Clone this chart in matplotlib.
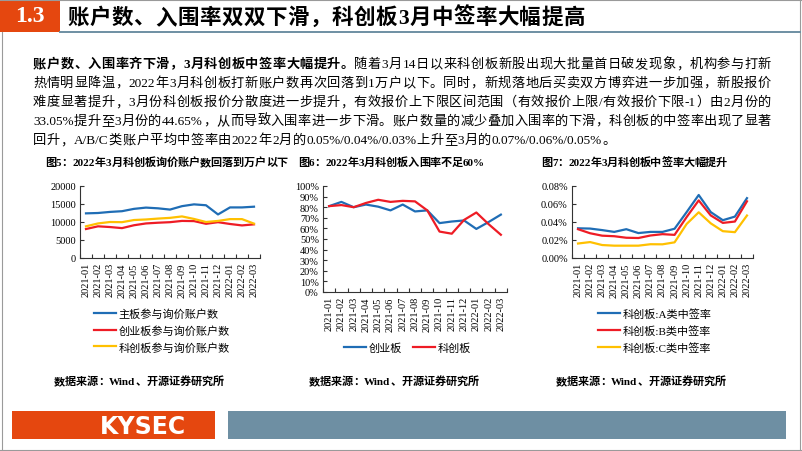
import matplotlib
matplotlib.use("Agg")
import matplotlib.pyplot as plt
from matplotlib.font_manager import FontProperties
from matplotlib.lines import Line2D
from matplotlib.patches import Rectangle
from matplotlib.ticker import FuncFormatter

# ---------------------------------------------------------------------------
# 数据
# ---------------------------------------------------------------------------
months = ["2021-01", "2021-02", "2021-03", "2021-04", "2021-05", "2021-06",
          "2021-07", "2021-08", "2021-09", "2021-10", "2021-11", "2021-12",
          "2022-01", "2022-02", "2022-03"]

# 图5 询价账户数
main_accounts = [12400, 12500, 12800, 13000, 13650, 14000, 13800, 13450,
                 14400, 14900, 14650, 12100, 14050, 14050, 14250]
gem_accounts = [8050, 8800, 8600, 8300, 9100, 9600, 9800, 9950,
                10300, 10250, 9500, 9950, 9450, 9050, 9350]
star_accounts = [8800, 9600, 10000, 9950, 10550, 10700, 10950, 11150,
                 11550, 10850, 10000, 10300, 10800, 10800, 9550]
acct_labels = ["主板参与询价账户数", "创业板参与询价账户数", "科创板参与询价账户数"]

# 图6 入围率 (%)
gem_rate = [81, 85, 80, 82.5, 80.5, 77, 82.5, 76, 77, 65, 66.5, 67.5, 59.5, 66, 73]
star_rate = [81, 82, 80, 84, 87, 85, 86, 85.5, 77, 57, 55, 68, 75, 64, 54]
rate_labels = ["创业板", "科创板"]

# 图7 中签率 (%)
star_a = [0.033, 0.0327, 0.031, 0.029, 0.032, 0.0277, 0.029, 0.029,
          0.0325, 0.051, 0.070, 0.051, 0.042, 0.046, 0.0665]
star_b = [0.032, 0.0275, 0.0248, 0.0242, 0.0225, 0.0222, 0.025, 0.0265,
          0.0257, 0.0455, 0.064, 0.0473, 0.039, 0.0405, 0.063]
star_c = [0.0161, 0.0177, 0.0144, 0.0137, 0.0137, 0.0137, 0.0153, 0.0152,
          0.0174, 0.0378, 0.0508, 0.0385, 0.0298, 0.0287, 0.0472]
win_labels = ["科创板:A类中签率", "科创板:B类中签率", "科创板:C类中签率"]

title = "账户数、入围率双双下滑，科创板3月中签率大幅提高"
para_lead = "账户数、入围率齐下滑，3月科创板中签率大幅提升。"
para_lines = [
    "随着3月14日以来科创板新股出现大批量首日破发现象，机构参与打新",
    "热情明显降温，2022年3月科创板打新账户数再次回落到1万户以下。同时，新规落地后买卖双方博弈进一步加强，新股报价",
    "难度显著提升，3月份科创板报价分散度进一步提升，有效报价上下限区间范围（有效报价上限/有效报价下限-1）由2月份的",
    "33.05%提升至3月份的44.65%，从而导致入围率进一步下滑。账户数量的减少叠加入围率的下滑，科创板的中签率出现了显著",
    "回升，A/B/C类账户平均中签率由2022年2月的0.05%/0.04%/0.03%上升至3月的0.07%/0.06%/0.05%。",
]
fig_titles = ["图5：2022年3月科创板询价账户数回落到万户以下",
              "图6：2022年3月科创板入围率不足60%",
              "图7：2022年3月科创板中签率大幅提升"]
source = "数据来源：Wind、开源证券研究所"

BLUE, RED, YELLOW = "#1F6DB5", "#EE1C25", "#FFC000"
ORANGE, STEEL = "#E5470F", "#6E8FA3"

# ---------------------------------------------------------------------------
FAM = ["Liberation Serif", "Noto Sans CJK SC", "DejaVu Sans"]
plt.rcParams["font.family"] = FAM

W, H = 802, 452
fig = plt.figure(figsize=(W / 100, H / 100), dpi=100)
renderer = fig.canvas.get_renderer()


def fx(x):
    return x / W


def fy(y):
    return 1 - y / H


def rect(x0, y0, x1, y1, color):
    fig.add_artist(Rectangle((fx(x0), fy(y1)), (x1 - x0) / W, (y1 - y0) / H,
                             transform=fig.transFigure, color=color, lw=0))


def hline(x0, x1, y, color, lw):
    fig.add_artist(Line2D([fx(x0), fx(x1)], [fy(y), fy(y)], color=color, lw=lw,
                          transform=fig.transFigure))


def vline(x, y0, y1, color, lw):
    fig.add_artist(Line2D([fx(x), fx(x)], [fy(y0), fy(y1)], color=color, lw=lw,
                          transform=fig.transFigure))


def tokens_of(runs):
    toks = []
    for text, weight in runs:
        buf = ""
        for ch in text:
            if ord(ch) < 128:
                buf += ch
            else:
                if buf:
                    toks.append((buf, weight))
                    buf = ""
                toks.append((ch, weight))
        if buf:
            toks.append((buf, weight))
    return toks


def draw_line(x0, x1, base, runs, size, color="black", gap=None):
    """逐字排版，两端对齐"""
    toks = tokens_of(runs)
    widths = []
    for t, w in toks:
        fp = FontProperties(family=FAM, size=size, weight=w)
        widths.append(renderer.get_text_width_height_descent(t, fp, ismath=False)[0])
    if gap is None:
        gap = (x1 - x0 - sum(widths)) / max(len(toks) - 1, 1)
    x = x0
    for (t, w), wd in zip(toks, widths):
        fig.text(fx(x), fy(base), t, fontsize=size, fontweight=w, color=color,
                 ha="left", va="baseline", family=FAM)
        x += wd + gap
    return gap


# ---- 页面框架 --------------------------------------------------------------
hline(0, 802, 0.5, "#9A9A9A", 0.8)
vline(1.5, 33, 451, "#9A9A9A", 0.8)
vline(799.5, 0, 451, "#9A9A9A", 0.8)
hline(0, 802, 450.5, "#9A9A9A", 0.8)
rect(0, 0, 60, 33, ORANGE)
hline(60, 800, 33, STEEL, 1.4)
fig.text(fx(30), fy(17), "1.3", color="white", fontsize=17, fontweight="bold",
         ha="center", va="center", family=["Liberation Serif"])
draw_line(67, 585, 24, [(title, "bold")], 15.5)

# ---- 正文 ------------------------------------------------------------------
bases = [68, 87, 106, 125, 144]
gaps = []
for i, line in enumerate(para_lines):
    runs = [(line, "normal")]
    if i == 0:
        runs = [(para_lead, "bold")] + runs
    if i < len(para_lines) - 1:
        gaps.append(draw_line(33, 771, bases[i], runs, 9.5))
    else:
        draw_line(33, 771, bases[i], runs, 9.5, gap=sum(gaps) / len(gaps))

# ---- 图表标题与来源 ---------------------------------------------------------
for (x0, x1), t in zip([(45, 288), (298, 485), (541, 727)], fig_titles):
    draw_line(x0, x1, 166, [(t, "bold")], 8)
for x0 in [54, 309, 556]:
    draw_line(x0, x0 + 170, 385, [(source, "bold")], 8)

# ---- 页脚 ------------------------------------------------------------------
rect(12, 412, 215, 440, ORANGE)
rect(228, 412, 786, 440, STEEL)
fig.text(fx(143), fy(427), "KYSEC", color="white", fontsize=17, fontweight="bold",
         ha="center", va="center", family=["DejaVu Sans"])


# ---- 坐标轴 ----------------------------------------------------------------
def make_axes(l, t, r, b):
    ax = fig.add_axes([fx(l), fy(b), (r - l) / W, (b - t) / H])
    ax.patch.set_alpha(0)
    ax.spines[["top", "right"]].set_visible(False)
    for s in ["left", "bottom"]:
        ax.spines[s].set_linewidth(0.8)
        ax.spines[s].set_color("#333333")
    n = len(months)
    ax.set_xlim(-0.5, n - 0.5)
    ax.set_xticks(range(n))
    ax.set_xticklabels(months, rotation=90)
    ax.set_xticks([i - 0.5 for i in range(n + 1)], minor=True)
    ax.tick_params(axis="x", which="major", length=0, pad=3, labelsize=7.5)
    ax.tick_params(axis="x", which="minor", direction="in", length=3, width=0.8,
                   color="#333333")
    ax.tick_params(axis="y", direction="in", length=3, width=0.8, pad=3,
                   labelsize=7.5, color="#333333")
    return ax


def put_legend(ax, x, y, ncol=1):
    ax.legend(loc="upper left", bbox_to_anchor=(fx(x), fy(y)),
              bbox_transform=fig.transFigure, frameon=False, ncol=ncol,
              prop=FontProperties(family=FAM, size=8), handlelength=2.0,
              handletextpad=0.2, labelspacing=0.55, columnspacing=1.0,
              borderpad=0, borderaxespad=0)


x = range(len(months))

# 图5
ax1 = make_axes(80, 187, 260, 259)
ax1.plot(x, main_accounts, color=BLUE, lw=1.6, label=acct_labels[0])
ax1.plot(x, gem_accounts, color=RED, lw=1.6, label=acct_labels[1])
ax1.plot(x, star_accounts, color=YELLOW, lw=1.6, label=acct_labels[2])
ax1.set_ylim(0, 20000)
ax1.set_yticks(range(0, 20001, 5000))
put_legend(ax1, 94, 309)

# 图6
ax2 = make_axes(323, 187, 507, 293)
ax2.plot(x, gem_rate, color=BLUE, lw=1.6, label=rate_labels[0])
ax2.plot(x, star_rate, color=RED, lw=1.6, label=rate_labels[1])
ax2.set_ylim(0, 100)
ax2.set_yticks(range(0, 101, 10))
ax2.yaxis.set_major_formatter(FuncFormatter(lambda v, p: f"{v:.0f}%"))
put_legend(ax2, 344, 343, ncol=2)

# 图7
ax3 = make_axes(572, 187, 753, 259)
ax3.plot(x, star_a, color=BLUE, lw=1.6, label=win_labels[0])
ax3.plot(x, star_b, color=RED, lw=1.6, label=win_labels[1])
ax3.plot(x, star_c, color=YELLOW, lw=1.6, label=win_labels[2])
ax3.set_ylim(0, 0.08)
ax3.set_yticks([0, 0.02, 0.04, 0.06, 0.08])
ax3.yaxis.set_major_formatter(FuncFormatter(lambda v, p: f"{v:.2f}%"))
put_legend(ax3, 598, 309)

fig.savefig("out.png", dpi=100)
